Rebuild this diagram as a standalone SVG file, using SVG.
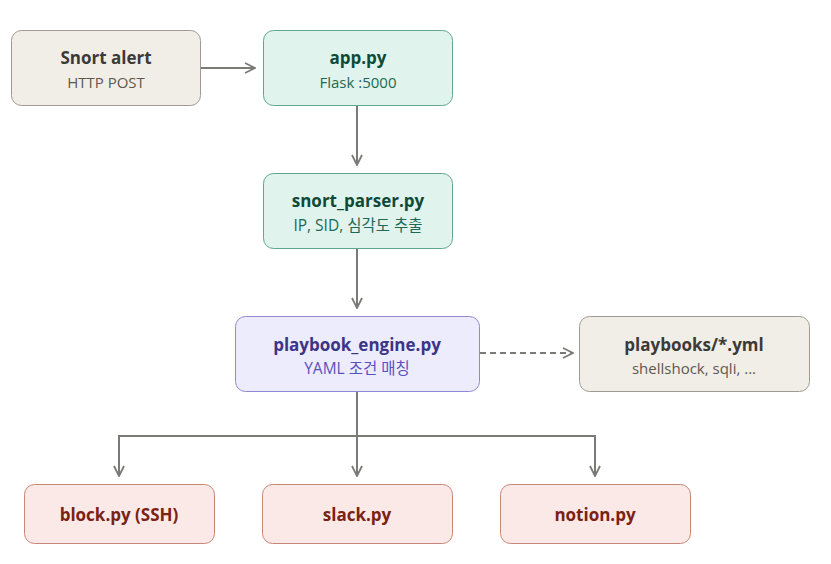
<svg xmlns="http://www.w3.org/2000/svg" width="831" height="564" viewBox="0 0 831 564">
<defs>
<marker id="ah" viewBox="0 0 12 12" refX="11" refY="6" markerWidth="12" markerHeight="12" markerUnits="userSpaceOnUse" orient="auto">
<path d="M1,1 L11,6 L1,11" fill="none" stroke="#7a7a76" stroke-width="1.8"/>
</marker>
<style>
text{font-family:"Open Sans","Noto Sans","Noto Sans CJK KR",sans-serif;text-anchor:middle}
.t{font-size:17px;font-weight:bold}
.s{font-size:15px}
.k{font-size:15.5px}
.c{fill:none;stroke:#7a7a76;stroke-width:2}
.gray rect{fill:#f1eee7;stroke:#a09b92}
.gray .t{fill:#3c3a36}.gray .s{fill:#5c5850}
.green rect{fill:#e0f3ec;stroke:#5fa88c}
.green .t{fill:#0f4a38}.green .s{fill:#1c6a55}
.purple rect{fill:#ececfc;stroke:#8f88d4}
.purple .t{fill:#3b3587}.purple .s{fill:#5b50c0}
.red rect{fill:#fae9e6;stroke:#c98676}
.red .t{fill:#7a2214}
</style>
</defs>
<rect width="831" height="564" fill="#ffffff"/>
<g id="connectors">
<line class="c" x1="201" y1="68" x2="255" y2="68" marker-end="url(#ah)"/>
<line class="c" x1="357" y1="106" x2="357" y2="165" marker-end="url(#ah)"/>
<line class="c" x1="357" y1="249" x2="357" y2="308" marker-end="url(#ah)"/>
<line class="c" x1="480" y1="353" x2="573" y2="353" stroke-dasharray="6,4" marker-end="url(#ah)"/>
<line class="c" x1="357" y1="392" x2="357" y2="476" marker-end="url(#ah)"/>
<polyline class="c" points="357,436 119,436 119,476" marker-end="url(#ah)"/>
<polyline class="c" points="357,436 595,436 595,476" marker-end="url(#ah)"/>
</g>
<g id="snort" class="gray">
<rect x="11.5" y="30.5" width="189" height="75" rx="10"/>
<text class="t" x="106" y="64">Snort alert</text>
<text class="s" x="106" y="88">HTTP POST</text>
</g>
<g id="app" class="green">
<rect x="263.5" y="30.5" width="189" height="75" rx="10"/>
<text class="t" x="358" y="64">app.py</text>
<text class="s" x="358" y="88">Flask :5000</text>
</g>
<g id="parser" class="green">
<rect x="263.5" y="173.5" width="189" height="75" rx="10"/>
<text class="t" x="358" y="207">snort_parser.py</text>
<text class="s k" x="358" y="231">IP, SID, 심각도 추출</text>
</g>
<g id="engine" class="purple">
<rect x="235.5" y="316.5" width="244" height="75" rx="10"/>
<text class="t" x="357" y="351">playbook_engine.py</text>
<text class="s k" x="357" y="374">YAML 조건 매칭</text>
</g>
<g id="playbooks" class="gray">
<rect x="579.5" y="316.5" width="230" height="75" rx="10"/>
<text class="t" x="694" y="351">playbooks/*.yml</text>
<text class="s" x="694" y="374">shellshock, sqli, ...</text>
</g>
<g id="block" class="red">
<rect x="24.5" y="484.5" width="190" height="59" rx="10"/>
<text class="t" x="119" y="521">block.py (SSH)</text>
</g>
<g id="slack" class="red">
<rect x="262.5" y="484.5" width="190" height="59" rx="10"/>
<text class="t" x="357" y="521">slack.py</text>
</g>
<g id="notion" class="red">
<rect x="500.5" y="484.5" width="190" height="59" rx="10"/>
<text class="t" x="595" y="521">notion.py</text>
</g>
</svg>
